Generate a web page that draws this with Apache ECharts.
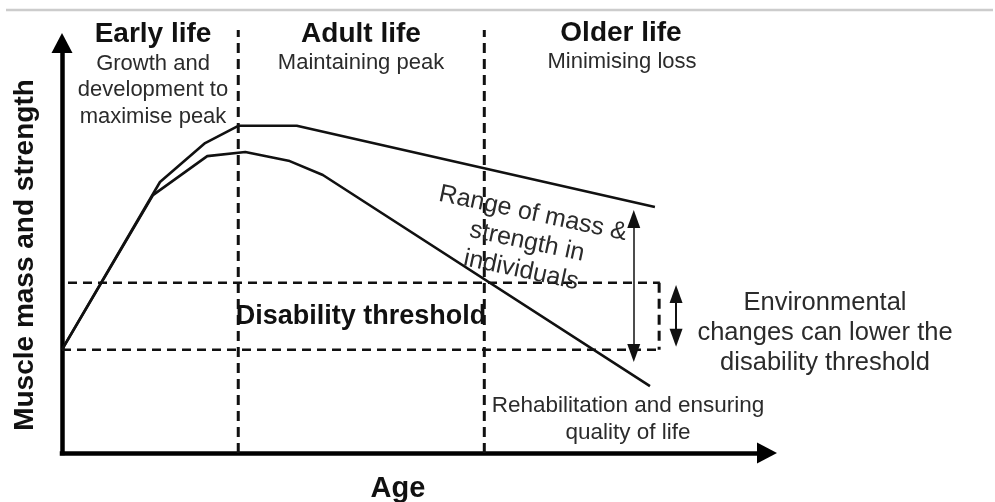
<!DOCTYPE html>
<html>
<head>
<meta charset="utf-8">
<script src="https://cdn.jsdelivr.net/npm/echarts@6/dist/echarts.min.js"></script>
<style>
  html, body { margin: 0; padding: 0; background: #fff; }
  #main { width: 995px; height: 502px; }
</style>
</head>
<body>
<div id="main"></div>
<script>
// schematic: age (0-100) against muscle mass & strength (0-100)
var upperAge = [0, 13.9, 20.3, 25.0, 33.3, 84.1];
var upperStrength = [25.2, 66.1, 75.6, 79.8, 79.8, 60.0];
var lowerAge = [0, 12.9, 20.6, 26.0, 32.3, 37.0, 83.4];
var lowerStrength = [25.2, 62.9, 72.4, 73.4, 71.2, 67.8, 16.3];

var stageBounds = [25.0, 59.9];       // early/adult, adult/older
var stageTop = 103.2;
var thresholdHigh = 41.5;
var thresholdLow = 25.2;
var thresholdStart = [0.85, 0];        // left ends of the two dashed lines
var thresholdEnd = 84.8;

var rangeArrow = { age: 81.1, from: 57.1, to: 24.4 };
var envArrow = { age: 87.1, from: 38.8, to: 28.1 };

var font = 'Liberation Sans, Arial, sans-serif';

function pairs(xs, ys) {
  var out = [];
  for (var i = 0; i < xs.length; i++) out.push([xs[i], ys[i]]);
  return out;
}

var chart = echarts.init(document.getElementById('main'), null, { renderer: 'canvas' });

var dashV = { color: '#111', width: 3, type: [10, 6] };
var dashH = { color: '#111', width: 2.5, type: [9, 6] };
var solid = { color: '#111', width: 2.6 };

function lineSeries(data, style) {
  return {
    type: 'line',
    data: data,
    symbol: 'none',
    clip: false,
    silent: true,
    lineStyle: style,
    z: 3
  };
}

var series = [
  lineSeries(pairs(upperAge, upperStrength), solid),
  lineSeries(pairs(lowerAge, lowerStrength), solid),
  lineSeries([[stageBounds[0], 0], [stageBounds[0], stageTop]], dashV),
  lineSeries([[stageBounds[1], 0], [stageBounds[1], stageTop]], dashV),
  lineSeries([[thresholdStart[0], thresholdHigh], [thresholdEnd, thresholdHigh]], dashH),
  lineSeries([[thresholdStart[1], thresholdLow], [thresholdEnd, thresholdLow]], dashH),
  lineSeries([[thresholdEnd - 0.1, thresholdHigh], [thresholdEnd - 0.1, thresholdLow]], dashV),
  {
    type: 'line',
    data: [],
    silent: true,
    markLine: {
      silent: true,
      symbol: ['triangle', 'triangle'],
      symbolSize: [13, 18],
      label: { show: false },
      animation: false,
      data: [
        [{ coord: [rangeArrow.age, rangeArrow.from], lineStyle: { color: '#111', width: 1.5, type: 'solid' } },
         { coord: [rangeArrow.age, rangeArrow.to] }],
        [{ coord: [envArrow.age, envArrow.from], lineStyle: { color: '#111', width: 2, type: 'solid' } },
         { coord: [envArrow.age, envArrow.to] }]
      ]
    }
  }
];

function txt(x, y, text, size, bold, extra) {
  var el = {
    type: 'text',
    x: x,
    y: y,
    z: 10,
    style: {
      text: text,
      x: 0,
      y: 0,
      fill: bold ? '#111' : '#2b2b2b',
      font: (bold ? 'bold ' : '') + size + 'px ' + font,
      align: 'center',
      verticalAlign: 'middle',
      lineHeight: extra && extra.lineHeight ? extra.lineHeight : size * 1.2
    }
  };
  if (extra && extra.rotation !== undefined) el.rotation = extra.rotation;
  return el;
}

var option = {
  animation: false,
  backgroundColor: '#fff',
  grid: { left: 62, top: 43, width: 705, height: 410 },
  xAxis: {
    type: 'value', min: 0, max: 100,
    axisLine: { show: true, onZero: false, symbol: ['none', 'triangle'], symbolSize: [21, 20],
      lineStyle: { color: '#000', width: 4.5, cap: 'square' } },
    axisTick: { show: false }, axisLabel: { show: false }, splitLine: { show: false }
  },
  yAxis: {
    type: 'value', min: 0, max: 100,
    axisLine: { show: true, onZero: false, symbol: ['none', 'triangle'], symbolSize: [21, 20],
      lineStyle: { color: '#000', width: 4.5, cap: 'square' } },
    axisTick: { show: false }, axisLabel: { show: false }, splitLine: { show: false }
  },
  series: series,
  graphic: [
    { type: 'line', shape: { x1: 6, y1: 10, x2: 993, y2: 10 }, style: { stroke: '#cccccc', lineWidth: 2.5 } },
    txt(153, 34, 'Early life', 28, true),
    txt(153, 90, 'Growth and\ndevelopment to\nmaximise peak', 22, false, { lineHeight: 26.5 }),
    txt(361, 34, 'Adult life', 28, true),
    txt(361, 63, 'Maintaining peak', 22, false),
    txt(621, 33, 'Older life', 28, true),
    txt(622, 62, 'Minimising loss', 22, false),
    txt(527, 242, 'Range of mass &\nstrength in\nindividuals', 25, false,
      { lineHeight: 29, rotation: -12 * Math.PI / 180 }),
    txt(361, 317, 'Disability threshold', 27, true),
    txt(825, 333, 'Environmental\nchanges can lower the\ndisability threshold', 25.5, false, { lineHeight: 30 }),
    txt(628, 419, 'Rehabilitation and ensuring\nquality of life', 22.5, false, { lineHeight: 27 }),
    txt(398, 489, 'Age', 29, true),
    txt(25, 255, 'Muscle mass and strength', 28, true, { rotation: Math.PI / 2 })
  ]
};

chart.setOption(option);
</script>
</body>
</html>
